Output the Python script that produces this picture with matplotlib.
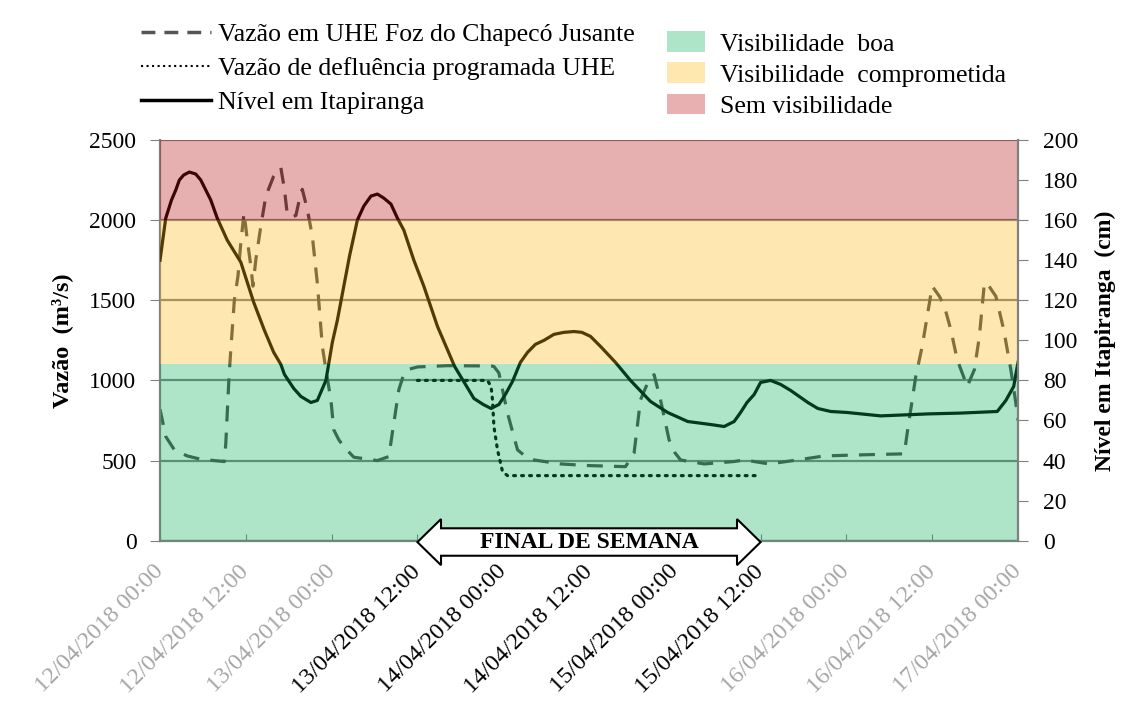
import numpy as np
import matplotlib
matplotlib.use('Agg')
import matplotlib.pyplot as plt
from matplotlib.patches import Rectangle, Polygon, Patch
from matplotlib.lines import Line2D
from matplotlib.transforms import blended_transform_factory

plt.rcParams['font.family'] = ['Liberation Serif', 'DejaVu Serif']

# hours since 12/04/2018 00:00
tick_hours = [0, 12, 24, 36, 48, 60, 72, 84, 96, 108, 120]
tick_labels = ['12/04/2018 00:00', '12/04/2018 12:00', '13/04/2018 00:00',
               '13/04/2018 12:00', '14/04/2018 00:00', '14/04/2018 12:00',
               '15/04/2018 00:00', '15/04/2018 12:00', '16/04/2018 00:00',
               '16/04/2018 12:00', '17/04/2018 00:00']
weekend = (36, 84)

# Vazao em UHE Foz do Chapeco Jusante (m3/s)
vazao_h = [0, 0.8, 2, 3.8, 5.7, 9, 9.2, 9.65, 9.9, 10.4, 10.9, 11.3, 11.75, 12.2,
           12.7, 13.0, 13.4, 14.1, 14.8, 15.9, 16.4, 16.9, 17.4, 17.8, 18.4, 19, 19.7, 19.9,
           20.6, 21.3, 22, 22.7, 23.2, 23.9, 24.3, 25.0, 25.7, 27.1, 30.4, 32, 32.7, 33.4,
           34.1, 34.6, 36, 40.2, 46.3, 46.7, 47.4, 48.6, 50, 51, 52.3, 56, 59.8, 65.1, 66.3, 67.2,
           68.2, 69.1, 70, 71.2, 72.0, 72.8, 76.1, 80.3, 81.7, 85.2, 89.2, 92.9, 97.5,
           104.1, 104.5, 105.7, 106.6, 107.3, 108, 109, 109.7, 110.6, 111.5, 112.9,
           113.9, 114.6, 115.3, 115.7, 116.9, 118, 119, 119.7, 120]
vazao = [820, 650, 567, 529, 508, 494, 608, 1025, 1192, 1504, 1650, 1859, 2046, 1879,
         1713, 1588, 1754, 1963, 2150, 2275, 2310, 2327, 2192, 2035, 2020, 2029, 2171, 2192,
         2067, 1900, 1608, 1213, 1067, 879, 692, 630, 587, 521, 500, 525, 734, 942,
         1040, 1067, 1084, 1092, 1090, 1087, 1046, 796, 567, 530, 504, 479, 469, 462, 546, 879,
         984, 1036, 879, 629, 550, 504, 479, 494, 504, 479, 504, 529, 535,
         542, 671, 1025, 1213, 1400, 1588, 1525, 1463, 1317, 1129, 963,
         1067, 1275, 1609, 1604, 1525, 1317, 1067, 858, 750]

# Vazao de defluencia programada UHE (m3/s)
defl_h = [36, 45.8, 46.3, 46.5, 46.7, 47.2, 47.9, 48.6, 83.5]
defl = [1000, 1000, 962, 879, 712, 567, 431, 406, 406]

# Nivel em Itapiranga (cm)
nivel_h = [0, 0.8, 1.6, 2.2, 2.7, 3.3, 4.1, 5.0, 5.7, 6.4, 7.1, 8, 9.4, 11.3, 13.1, 14.6,
           15.9, 16.9, 17.4, 18.7, 19.7, 21.1, 22, 23.2, 24.1, 24.8,
           26.5, 27.6, 28.5, 29.5, 30.4, 31.3, 32.3, 33.2, 34.1, 35.5, 36.9, 38.8, 41.2,
           43.9, 45.2, 46.3, 47.4, 48.3, 49.3, 50.4, 51.4, 52.5, 53.7, 55.1, 56.5, 57.9,
           59, 60.2, 61.6, 63.7, 65.8, 68.6, 71, 73.8, 77, 78.9, 80.3, 81.2, 82.1, 83.1,
           84, 85.4, 86.8, 88.2, 89.4, 90.6, 92, 93.8, 96.1, 100.8, 107.5,
           112, 117.1, 118.3, 119.4, 120]
nivel = [140, 161, 170, 175, 180, 182.5, 184, 183, 180, 175, 170, 161, 150, 139, 119, 105,
         94, 88, 83, 76, 72, 69, 70, 80, 99, 110,
         142, 160, 167, 172, 173, 171, 168, 161, 155, 140, 127, 107, 87,
         71, 68, 66, 68, 73, 79.5, 89, 94, 98, 100, 103, 104, 104.4,
         104, 102, 97, 89, 80, 69.5, 64, 59.5, 58, 57, 59.5, 64, 69, 73,
         79, 80, 78, 75, 72, 69, 66, 64.5, 64, 62.3, 63.3,
         63.7, 64.5, 70, 77, 89]

# visibility bands (m3/s)
band_lims = [0, 1100, 2000, 2500]
band_names = ['Visibilidade  boa', 'Visibilidade  comprometida', 'Sem visibilidade']
band_colors = ['#AEE5C8', '#FEE8B0', '#E8B0B0']

fig = plt.figure(figsize=(11.23, 7.07), dpi=100)
ax = fig.add_axes([0.1425, 0.2352, 0.764, 0.5668])
ax2 = ax.twinx()

fs = 17
ax.plot(vazao_h, vazao, color='#4d4d4d', lw=2.3, linestyle=(0, (5, 3.5)), zorder=1)
ax.plot(defl_h, defl, color='black', lw=2.3, linestyle=(0, (0.6, 1.9)),
        dash_capstyle='round', zorder=1)
ax2.plot(nivel_h, nivel, color='black', lw=2.3, zorder=1)

# bands drawn over the lines, semi-transparent, like the original
alpha = 0.33
trans = blended_transform_factory(ax2.transAxes, ax.transData)
for i in range(3):
    disp = np.array(matplotlib.colors.to_rgb(band_colors[i]))
    base = np.clip((disp - (1 - alpha)) / alpha, 0, 1)
    ax2.add_patch(Rectangle((0, band_lims[i]), 1, band_lims[i + 1] - band_lims[i],
                            transform=trans, facecolor=base, alpha=alpha,
                            edgecolor='none', zorder=2))

ax.set_xlim(0, 120)
ax.set_ylim(0, 2500)
ax2.set_ylim(0, 200)
ax.set_yticks(range(0, 2501, 500))
ax2.set_yticks(range(0, 201, 20))
ax.grid(axis='y', color='#808080', lw=1.6)
ax.set_axisbelow(True)

ax.set_xticks(tick_hours)
ax.set_xticklabels(tick_labels, rotation=45, ha='right', va='center', rotation_mode='anchor')
for h, lab in zip(tick_hours, ax.get_xticklabels()):
    lab.set_color('black' if weekend[0] <= h <= weekend[1] else '#A6A6A6')
ax.tick_params(axis='x', direction='in', length=5, color='#808080', labelsize=17.5, pad=20)
ax.tick_params(axis='y', direction='out', length=7, color='#808080', labelsize=fs, pad=10)
ax2.tick_params(axis='y', direction='out', length=7, color='#808080', labelsize=fs, pad=11)

for s in ['top', 'right']:
    ax.spines[s].set_visible(False)
for s in ['top', 'left', 'bottom']:
    ax2.spines[s].set_visible(False)
ax.spines['left'].set_color('#808080')
ax.spines['left'].set_linewidth(1.6)
ax.spines['bottom'].set_color('#808080')
ax.spines['bottom'].set_linewidth(1.6)
ax2.spines['right'].set_color('#808080')
ax2.spines['right'].set_linewidth(1.6)
ax2.spines['right'].set_zorder(3)

ax.set_ylabel('Vazão  (m³/s)', fontsize=17.5, fontweight='bold', labelpad=12)
ax2.set_ylabel('Nível em Itapiranga  (cm)', fontsize=17, fontweight='bold', labelpad=12)

# weekend double arrow
x0, x1 = weekend
hl = 3.3
tr = blended_transform_factory(ax.transData, ax.transAxes)
yb_t, yb_b, yh_t, yh_b, ym = 0.031, -0.0375, 0.054, -0.061, -0.0035
verts = [(x0, ym), (x0 + hl, yh_t), (x0 + hl, yb_t), (x1 - hl, yb_t), (x1 - hl, yh_t),
         (x1, ym), (x1 - hl, yh_b), (x1 - hl, yb_b), (x0 + hl, yb_b), (x0 + hl, yh_b)]
arrow = Polygon(verts, closed=True, transform=tr, facecolor='white', edgecolor='black',
                lw=1.5, clip_on=False, zorder=5)
ax2.add_patch(arrow)
ax2.text((x0 + x1) / 2, ym, 'FINAL DE SEMANA', transform=tr, ha='center', va='center',
         fontsize=17, fontweight='bold', zorder=6, clip_on=False)

# legends
lfs = 18.5
line_handles = [Line2D([], [], color='#555555', lw=2.5, linestyle=(0, (4, 2.6))),
                Line2D([], [], color='black', lw=1.5, linestyle=':'),
                Line2D([], [], color='black', lw=2.5)]
line_labels = ['Vazão em UHE Foz do Chapecó Jusante', 'Vazão de defluência programada UHE',
               'Nível em Itapiranga']
fig.legend(line_handles, line_labels, loc='upper left', bbox_to_anchor=(0.1095, 0.9935),
           frameon=False, fontsize=lfs, handlelength=2.72, handletextpad=0.27,
           labelspacing=0.43, borderpad=0.2)
band_handles = [Patch(facecolor=c, edgecolor='none') for c in band_colors]
fig.legend(band_handles, band_names, loc='upper left', bbox_to_anchor=(0.578, 0.981),
           frameon=False, fontsize=lfs, handlelength=1.48, handleheight=0.85,
           handletextpad=0.58, labelspacing=0.27, borderpad=0.2)

fig.savefig('out.png', dpi=100)
